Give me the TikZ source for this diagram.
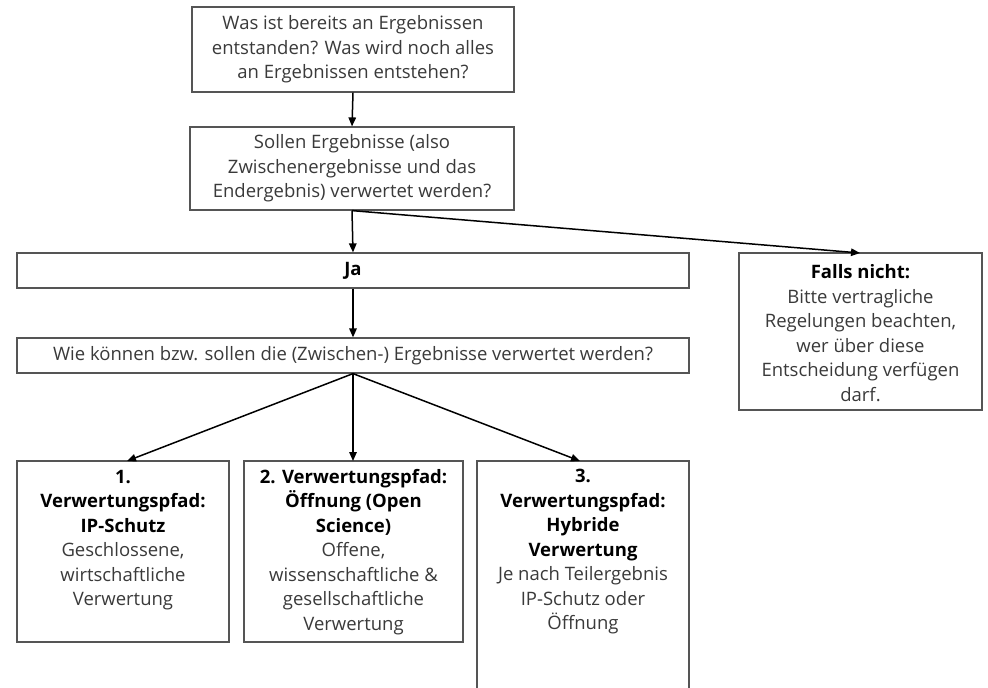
\documentclass[tikz,border=0pt]{standalone}
\usepackage{fontspec}
\setmainfont{Open Sans}
\usetikzlibrary{arrows.meta}
\definecolor{txt}{HTML}{3A3A3A}
\definecolor{frame}{HTML}{555555}
\newcommand{\hd}[1]{\textcolor{black}{\bfseries #1}}
\tikzset{
  box/.style={draw=frame, line width=1.2pt, rectangle, align=center, text=txt, inner sep=0pt,
    font=\fontsize{18.5}{24.5}\selectfont},
  frm/.style={draw=frame, line width=1.2pt},
  arr/.style={line width=1.5pt, -{Triangle[length=9pt,width=7.5pt]}},
}
\begin{document}
\begin{tikzpicture}[x=1pt,y=-1pt]
\useasboundingbox (0,0) rectangle (988,688);
\fill[white] (0,0) rectangle (988,688);

\node[box, minimum width=322pt, minimum height=85pt] (q1) at (353,49.5)
  {Was ist bereits an Ergebnissen\\entstanden? Was wird noch alles\\an Ergebnissen entstehen?};
\node[box, minimum width=324pt, minimum height=83pt] (q2) at (352,168.5)
  {Sollen Ergebnisse (also\\Zwischenergebnisse und das\\Endergebnis) verwertet werden?};
\node[box, minimum width=672pt, minimum height=35pt] (ja) at (353,270.5)
  {\hd{Ja}};
\node[box, minimum width=672pt, minimum height=35pt] (wie) at (353,355.5)
  {Wie können bzw. sollen die (Zwischen-) Ergebnisse verwertet werden?};

\draw[frm] (739,253) rectangle (982,410);
\node[box, draw=none] (falls) at (860.5,333)
  {\hd{Falls nicht:}\\Bitte vertragliche\\Regelungen beachten,\\wer über diese\\Entscheidung verfügen\\darf.};
\coordinate (fallstop) at (860,253);

\draw[frm] (17,461) rectangle (229,642);
\draw[frm] (244,461) rectangle (463,642);
\draw[frm] (477,461) rectangle (689,700);
\coordinate (p1) at (127,461);
\coordinate (p2) at (353,461);
\coordinate (p3) at (580,461);

\node[box, draw=none] (b1) at (123,540)
  {\hd{1.}\\\hd{Verwertungspfad:}\\\hd{IP-Schutz}\\Geschlossene,\\wirtschaftliche\\Verwertung};
\node[box, draw=none] (b2) at (353.5,552)
  {\hd{2. Verwertungspfad:}\\\hd{Öffnung (Open}\\\hd{Science)}\\Offene,\\wissenschaftliche \&\\gesellschaftliche\\Verwertung};
\node[box, draw=none] (b3) at (583,552)
  {\hd{3.}\\\hd{Verwertungspfad:}\\\hd{Hybride}\\\hd{Verwertung}\\Je nach Teilergebnis\\IP-Schutz oder\\Öffnung};

\draw[arr] (q1.south) -- (q2.north);
\draw[arr] (q2.south) -- (ja.north);
\draw[arr] (q2.south) -- (fallstop);
\draw[arr] (ja.south) -- (wie.north);
\draw[arr] (wie.south) -- (p1);
\draw[arr] (wie.south) -- (p2);
\draw[arr] (wie.south) -- (p3);
\end{tikzpicture}
\end{document}
